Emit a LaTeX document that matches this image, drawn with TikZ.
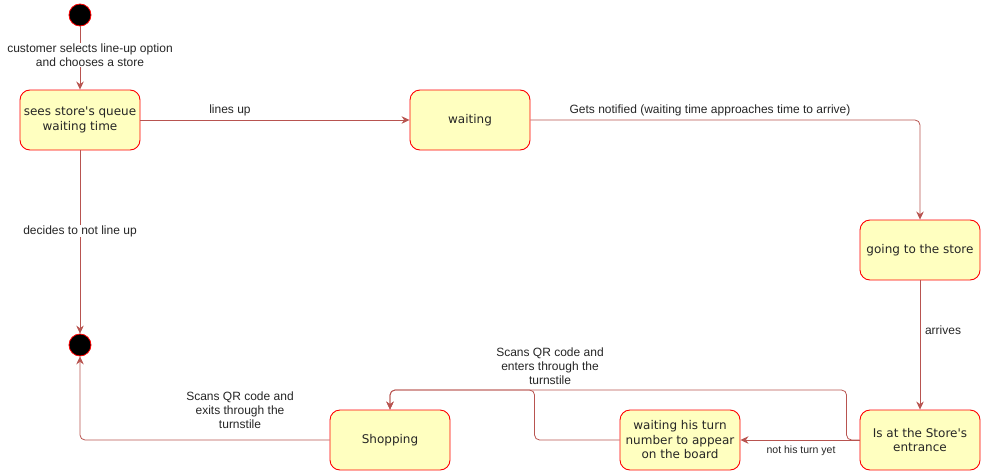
\documentclass[tikz,border=0pt]{standalone}
\usepackage{fontspec}
\setmainfont{Liberation Sans}
\newfontfamily\nodefont{DejaVu Sans}
\usetikzlibrary{arrows.meta}
\definecolor{edgec}{HTML}{B85450}
\definecolor{fillc}{HTML}{FFFFC0}
\begin{document}
\begin{tikzpicture}[x=1pt,y=-1pt,
  state/.style={draw=red, fill=fillc, rounded corners=10pt, minimum width=120pt, minimum height=60pt, inner sep=1pt, align=center, text=black!85, font=\nodefont\fontsize{12}{14.5}\selectfont, line width=0.9pt},
  dot/.style={circle, fill=black, draw=red, line width=0.8pt, minimum size=22pt, inner sep=0pt},
  edge/.style={draw=edgec, line width=0.8pt, -{Stealth[length=8pt,width=7.5pt]}, rounded corners=5pt},
  lbl/.style={font=\fontsize{12}{14}\selectfont, align=center, text=black!85, inner sep=0.5pt, fill=white},
  slbl/.style={font=\fontsize{10.5}{12}\selectfont, align=center, text=black!85, inner sep=0.5pt, fill=white}]
\useasboundingbox (0,0) rectangle (981,471);
\node[dot] (start) at (80,15) {};
\node[dot] (end) at (80,345) {};
\node[state] (n1) at (80,120) {sees store's queue\\waiting time};
\node[state] (wait) at (470,120) {waiting};
\node[state] (go) at (920,250) {going to the store};
\node[state] (at) at (920,440) {Is at the Store's\\entrance};
\node[state] (turn) at (680,440) {waiting his turn\\number to appear\\on the board};
\node[state] (shop) at (390,440) {Shopping};
\coordinate (j) at (390,390);

\draw[edge] (start) -- (n1);
\draw[edge] (n1) -- (wait);
\draw[edge] (wait.east) -| (go.north);
\draw[edge] (n1) -- (end);
\draw[edge] (go) -- (at);
\draw[edge] (at) -- (turn);
\draw[edge] (at.west) -- ++(-13,0) |- (j) -- (shop.north);
\draw[edge] (turn.west) -- ++(-85,0) |- (j) -- (shop.north);
\draw[edge] (shop.west) -| (end.south);

\node[lbl] (l1) at (90,55) {customer selects line-up option\\and chooses a store};
\node[lbl] (l2) at (230,110) {lines up};
\node[lbl] (l3) at (710,110) {Gets notified (waiting time approaches time to arrive)};
\node[lbl] (l4) at (80,231) {decides to not line up};
\node[lbl] (l5) at (943,330) {arrives};
\node[slbl] (l6) at (801,451) {not his turn yet};
\node[lbl] (l7) at (550,366) {Scans QR code and\\enters through the\\turnstile};
\node[lbl] (l8) at (240,410) {Scans QR code and\\exits through the\\turnstile};
\end{tikzpicture}
\end{document}
